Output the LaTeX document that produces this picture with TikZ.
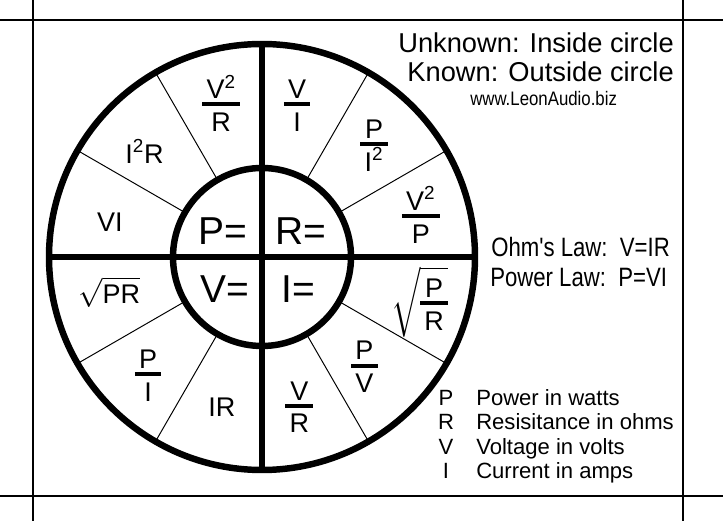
\documentclass[tikz,border=0pt]{standalone}
\usepackage{amsmath}
\usepackage{fontspec}
\setmainfont{Liberation Sans}
\newfontfamily\narrowsans[FakeStretch=0.834]{Liberation Sans}
\newfontfamily\urlsans[FakeStretch=0.86]{Liberation Sans}
\newcommand{\ohmfrac}[2]{{\setlength{\arrayrulewidth}{2.8pt}%
	\begin{tabular}{@{\kern3pt}c@{\kern3pt}}#1\\[-4pt]\hline\rule{0pt}{18pt}#2\\[-5pt]\end{tabular}}}

\begin{document}
\begin{tikzpicture}[
		heavy/.style={line width=4.6pt},
		spoke/.style={line width=0.7pt},
		crop/.style={line width=0.8pt},
		unknown/.style={font=\fontsize{27.7}{30}\selectfont, inner sep=0pt},
		known/.style={font=\fontsize{19.2}{22}\selectfont, inner sep=0pt},
		keyfont/.style={font=\fontsize{15.7}{18}\selectfont, inner sep=0pt}]
		\useasboundingbox (-6.55, -6.6) rectangle (11.525, 6.425);
		\fill[white] (-6.55, -6.6) rectangle (11.525, 6.425);

		% frame
		\draw[crop] (-5.725, -6.6) -- (-5.725, 6.425);
		\draw[crop] (10.525, -6.6) -- (10.525, 6.425);
		\draw[crop] (-6.55, 5.925) -- (11.525, 5.925);
		\draw[crop] (-6.55, -5.975) -- (11.525, -5.975);

		% wheel
		\draw[spoke] (30:2.225) -- (30:5.325);
		\draw[spoke] (60:2.225) -- (60:5.325);
		\draw[spoke] (120:2.225) -- (120:5.325);
		\draw[spoke] (150:2.225) -- (150:5.325);
		\draw[spoke] (210:2.225) -- (210:5.325);
		\draw[spoke] (240:2.225) -- (240:5.325);
		\draw[spoke] (300:2.225) -- (300:5.325);
		\draw[spoke] (330:2.225) -- (330:5.325);
		\draw[heavy] (0, 0) circle (5.325);
		\draw[heavy] (0, 0) circle (2.225);
		\draw[heavy] (-5.325, 0) -- (5.325, 0);
		\draw[heavy] (0, -5.325) -- (0, 5.325);

		\node[unknown] (peq) at (-0.99, 0.65) {P=};
		\node[unknown] (req) at (0.975, 0.65) {R=};
		\node[unknown] (veq) at (-0.925, -0.81) {V=};
		\node[unknown] (ieq) at (0.9, -0.81) {I=};

		\node[known] (p1) at (167:3.9) {VI};
		\node[known] (p2) at (138:3.95) {I\textsuperscript{2}R};
		\node[known] (p3) at (105:3.95) {\ohmfrac{V\textsuperscript{2}}{R}};
		\node[known] (r1) at (77:3.9) {\ohmfrac{V}{I}};
		\node[known] (r2) at (45:3.96) {\ohmfrac{P}{I\textsuperscript{2}}};
		\node[known] (r3) at (14.5:4.1) {\ohmfrac{V\textsuperscript{2}}{P}};
		\node[known] (i1) at (-16:4.1) {$\sqrt{\ohmfrac{P}{R}}$};
		\node[known] (i2) at (-47:3.75) {\ohmfrac{P}{V}};
		\node[known] (i3) at (-76:3.86) {\ohmfrac{V}{R}};
		\node[known] (v1) at (255:3.88) {IR};
		\node[known] (v2) at (226:4.1) {\ohmfrac{P}{I}};
		\node[known] (v3) at (193:3.92) {$\sqrt{\text{PR}}$};

		% notes on the right
		\node[anchor=base east, inner sep=0pt, font=\fontsize{19.4}{22}\selectfont] (inside) at (10.3, 5.1) {Unknown: Inside circle};
		\node[anchor=base east, inner sep=0pt, font=\fontsize{19.4}{22}\selectfont] (outside) at (10.3, 4.375) {Known: Outside circle};
		\node[anchor=base, inner sep=0pt, font=\urlsans\fontsize{13.9}{16}\selectfont] (site) at (7.04, 3.775) {www.LeonAudio.biz};
		\node[anchor=base west, inner sep=0pt, font=\narrowsans\fontsize{18.9}{22}\selectfont] (ohm) at (5.725, 0) {Ohm's Law:\ \ V=IR};
		\node[anchor=base west, inner sep=0pt, font=\narrowsans\fontsize{18.9}{22}\selectfont] (power) at (5.7, -0.74) {Power Law:\ \ P=VI};

		\node[keyfont, anchor=base] (kp) at (4.6, -3.72) {P};
		\node[keyfont, anchor=base] (kr) at (4.6, -4.32) {R};
		\node[keyfont, anchor=base] (kv) at (4.6, -4.93) {V};
		\node[keyfont, anchor=base] (ki) at (4.6, -5.53) {I};
		\node[keyfont, anchor=base west] (dp) at (5.35, -3.72) {Power in watts};
		\node[keyfont, anchor=base west] (dr) at (5.35, -4.32) {Resisitance in ohms};
		\node[keyfont, anchor=base west] (dv) at (5.35, -4.93) {Voltage in volts};
		\node[keyfont, anchor=base west] (di) at (5.35, -5.53) {Current in amps};
	\end{tikzpicture}
\end{document}
